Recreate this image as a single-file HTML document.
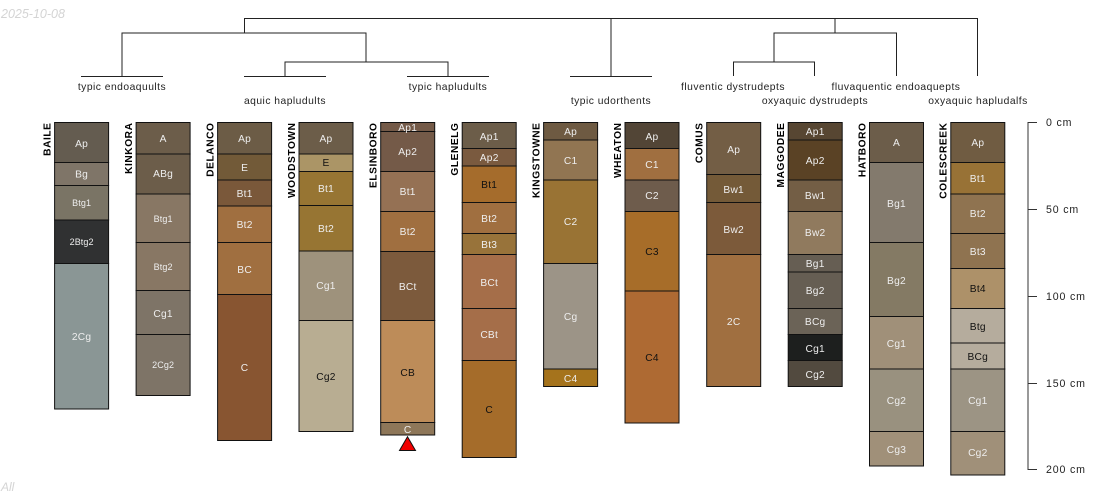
<!DOCTYPE html>
<html>
<head>
<meta charset="utf-8">
<style>
html,body{margin:0;padding:0;background:#fff}
svg{display:block}
text{font-family:"Liberation Sans",Arial,sans-serif}
.l{font-size:10.2px;letter-spacing:.25px;text-anchor:middle;fill:#eee}
.d{fill:#111}
.s{font-size:9px;letter-spacing:.1px}
.n{font-size:10.2px;letter-spacing:.55px;font-weight:bold;text-anchor:end;fill:#000}
.t{font-size:10.3px;letter-spacing:.48px;text-anchor:middle;fill:#222}
.a{font-size:10.6px;letter-spacing:.85px;fill:#222}
g.p rect{stroke:#111;stroke-width:1}
</style>
</head>
<body>
<svg width="1100" height="500" viewBox="0 0 1100 500" xmlns="http://www.w3.org/2000/svg">
<text x="1" y="18" font-size="12.5" font-style="italic" fill="#d4d4d4">2025-10-08</text>
<text x="1" y="491" font-size="12" font-style="italic" fill="#d4d4d4">All</text>

<!-- dendrogram -->
<g fill="none" stroke="#222" stroke-width="1">
<path d="M244.500 33V18.500H977.500V76"/>
<path d="M611 18.500V76"/>
<path d="M122 76V33H366V62"/>
<path d="M285 76V62H448V76"/>
<path d="M835 18.500V33"/>
<path d="M774 62V33H896.500V76"/>
<path d="M733.500 76V62H814.500V76"/>
<path d="M81 76.500H163M244 76.500H326M407 76.500H489M570 76.500H652"/>
</g>
<text class="t" x="122" y="90">typic endoaquults</text>
<text class="t" x="285" y="104">aquic hapludults</text>
<text class="t" x="448" y="90">typic hapludults</text>
<text class="t" x="611" y="104">typic udorthents</text>
<text class="t" x="733" y="90">fluventic dystrudepts</text>
<text class="t" x="815" y="104">oxyaquic dystrudepts</text>
<text class="t" x="896" y="90">fluvaquentic endoaquepts</text>
<text class="t" x="978" y="104">oxyaquic hapludalfs</text>

<!-- BAILE -->
<text class="n" transform="translate(50.500 122.500) rotate(-90)">BAILE</text>
<g class="p" transform="translate(54.600 0)">
<rect y="122.500" width="54" height="40" fill="#645c50"/>
<rect y="162.500" width="54" height="23" fill="#7f7568"/>
<rect y="185.500" width="54" height="34.500" fill="#7a7465"/>
<rect y="220" width="54" height="43.500" fill="#303132"/>
<rect y="263.500" width="54" height="145.500" fill="#8a9695"/>
<text class="l" x="27" y="147">Ap</text>
<text class="l" x="27" y="177.500">Bg</text>
<text class="l s" x="27" y="206">Btg1</text>
<text class="l s" x="27" y="245">2Btg2</text>
<text class="l" x="27" y="340">2Cg</text>
</g>

<!-- KINKORA -->
<text class="n" transform="translate(132 122.500) rotate(-90)">KINKORA</text>
<g class="p" transform="translate(136.100 0)">
<rect y="122.500" width="54" height="31.500" fill="#6c5d4a"/>
<rect y="154" width="54" height="40" fill="#6c5d4a"/>
<rect y="194" width="54" height="48.500" fill="#887764"/>
<rect y="242.500" width="54" height="48" fill="#887764"/>
<rect y="290.500" width="54" height="44" fill="#7e7467"/>
<rect y="334.500" width="54" height="61" fill="#7e7467"/>
<text class="l" x="27" y="142">A</text>
<text class="l" x="27" y="177">ABg</text>
<text class="l s" x="27" y="222">Btg1</text>
<text class="l s" x="27" y="270">Btg2</text>
<text class="l" x="27" y="317">Cg1</text>
<text class="l s" x="27" y="368">2Cg2</text>
</g>

<!-- DELANCO -->
<text class="n" transform="translate(213.500 122.500) rotate(-90)">DELANCO</text>
<g class="p" transform="translate(217.600 0)">
<rect y="122.500" width="54" height="31.500" fill="#6c5c46"/>
<rect y="154" width="54" height="26" fill="#725a38"/>
<rect y="180" width="54" height="26" fill="#7a583a"/>
<rect y="206" width="54" height="36.500" fill="#a06f40"/>
<rect y="242.500" width="54" height="52" fill="#a06f40"/>
<rect y="294.500" width="54" height="146" fill="#885531"/>
<text class="l" x="27" y="142">Ap</text>
<text class="l" x="27" y="171">E</text>
<text class="l" x="27" y="197">Bt1</text>
<text class="l" x="27" y="228">Bt2</text>
<text class="l" x="27" y="273">BC</text>
<text class="l" x="27" y="371">C</text>
</g>

<!-- WOODSTOWN -->
<text class="n" transform="translate(295 122.500) rotate(-90)">WOODSTOWN</text>
<g class="p" transform="translate(299 0)">
<rect y="122.500" width="54" height="31.500" fill="#6c5d49"/>
<rect y="154" width="54" height="17.500" fill="#ab9566"/>
<rect y="171.500" width="54" height="34" fill="#977533"/>
<rect y="205.500" width="54" height="45.500" fill="#977533"/>
<rect y="251" width="54" height="69.500" fill="#9e927c"/>
<rect y="320.500" width="54" height="111" fill="#b8ad92"/>
<text class="l" x="27" y="142">Ap</text>
<text class="l d" x="27" y="166">E</text>
<text class="l" x="27" y="192">Bt1</text>
<text class="l" x="27" y="232">Bt2</text>
<text class="l" x="27" y="289">Cg1</text>
<text class="l d" x="27" y="380">Cg2</text>
</g>

<!-- ELSINBORO -->
<text class="n" transform="translate(376.500 122.500) rotate(-90)">ELSINBORO</text>
<g class="p" transform="translate(380.700 0)">
<rect y="122.500" width="54" height="9" fill="#745a48"/>
<rect y="131.500" width="54" height="40" fill="#745a48"/>
<rect y="171.500" width="54" height="40" fill="#957154"/>
<rect y="211.500" width="54" height="40" fill="#a06f40"/>
<rect y="251.500" width="54" height="69" fill="#7c5a3c"/>
<rect y="320.500" width="54" height="102" fill="#bd8c59"/>
<rect y="422.500" width="54" height="12.500" fill="#8e7759"/>
<text class="l" x="27" y="131">Ap1</text>
<text class="l" x="27" y="155">Ap2</text>
<text class="l" x="27" y="195">Bt1</text>
<text class="l" x="27" y="235">Bt2</text>
<text class="l" x="27" y="290">BCt</text>
<text class="l d" x="27" y="376">CB</text>
<text class="l" x="27" y="433">C</text>
</g>
<polygon points="407.500,436.700 399.500,450.500 415.500,450.500" fill="#f00000" stroke="#111" stroke-width="1"/>

<!-- GLENELG -->
<text class="n" transform="translate(458 122.500) rotate(-90)">GLENELG</text>
<g class="p" transform="translate(462.200 0)">
<rect y="122.500" width="54" height="26" fill="#6c5d49"/>
<rect y="148.500" width="54" height="17.500" fill="#7a5a3f"/>
<rect y="166" width="54" height="36.500" fill="#a56c2c"/>
<rect y="202.500" width="54" height="31" fill="#a06f40"/>
<rect y="233.500" width="54" height="21" fill="#98733a"/>
<rect y="254.500" width="54" height="54" fill="#a56e49"/>
<rect y="308.500" width="54" height="52" fill="#a56e49"/>
<rect y="360.500" width="54" height="97" fill="#a56c2a"/>
<text class="l" x="27" y="140">Ap1</text>
<text class="l" x="27" y="161">Ap2</text>
<text class="l d" x="27" y="188">Bt1</text>
<text class="l" x="27" y="222">Bt2</text>
<text class="l" x="27" y="248">Bt3</text>
<text class="l" x="27" y="286">BCt</text>
<text class="l" x="27" y="338">CBt</text>
<text class="l d" x="27" y="413">C</text>
</g>

<!-- KINGSTOWNE -->
<text class="n" transform="translate(539.500 122.500) rotate(-90)">KINGSTOWNE</text>
<g class="p" transform="translate(543.600 0)">
<rect y="122.500" width="54" height="17.500" fill="#6e5a42"/>
<rect y="140" width="54" height="40" fill="#917552"/>
<rect y="180" width="54" height="83.500" fill="#997334"/>
<rect y="263.500" width="54" height="105.500" fill="#9c9487"/>
<rect y="369" width="54" height="17.500" fill="#a5731c"/>
<text class="l" x="27" y="135">Ap</text>
<text class="l" x="27" y="164">C1</text>
<text class="l" x="27" y="225">C2</text>
<text class="l" x="27" y="320">Cg</text>
<text class="l" x="27" y="382">C4</text>
</g>

<!-- WHEATON -->
<text class="n" transform="translate(621 122.500) rotate(-90)">WHEATON</text>
<g class="p" transform="translate(625 0)">
<rect y="122.500" width="54" height="26" fill="#524536"/>
<rect y="148.500" width="54" height="31.500" fill="#a06f40"/>
<rect y="180" width="54" height="31.500" fill="#6e5c4c"/>
<rect y="211.500" width="54" height="79.500" fill="#a76d29"/>
<rect y="291" width="54" height="132" fill="#ae6a33"/>
<text class="l" x="27" y="140">Ap</text>
<text class="l" x="27" y="168">C1</text>
<text class="l" x="27" y="199">C2</text>
<text class="l d" x="27" y="255">C3</text>
<text class="l d" x="27" y="361">C4</text>
</g>

<!-- COMUS -->
<text class="n" transform="translate(702.500 122.500) rotate(-90)">COMUS</text>
<g class="p" transform="translate(706.700 0)">
<rect y="122.500" width="54" height="52" fill="#735e45"/>
<rect y="174.500" width="54" height="28" fill="#745a38"/>
<rect y="202.500" width="54" height="52" fill="#7c5a3a"/>
<rect y="254.500" width="54" height="132" fill="#a06f40"/>
<text class="l" x="27" y="153">Ap</text>
<text class="l" x="27" y="193">Bw1</text>
<text class="l" x="27" y="233">Bw2</text>
<text class="l" x="27" y="325">2C</text>
</g>

<!-- MAGGODEE -->
<text class="n" transform="translate(784 122.500) rotate(-90)">MAGGODEE</text>
<g class="p" transform="translate(788.200 0)">
<rect y="122.500" width="54" height="17.500" fill="#574632"/>
<rect y="140" width="54" height="40" fill="#5a4225"/>
<rect y="180" width="54" height="31.500" fill="#735e45"/>
<rect y="211.500" width="54" height="43" fill="#907a5e"/>
<rect y="254.500" width="54" height="17.500" fill="#665e53"/>
<rect y="272" width="54" height="36.500" fill="#665e53"/>
<rect y="308.500" width="54" height="26" fill="#6b6357"/>
<rect y="334.500" width="54" height="26" fill="#1d1f1e"/>
<rect y="360.500" width="54" height="26" fill="#524a3f"/>
<text class="l" x="27" y="135">Ap1</text>
<text class="l" x="27" y="164">Ap2</text>
<text class="l" x="27" y="199">Bw1</text>
<text class="l" x="27" y="236">Bw2</text>
<text class="l" x="27" y="267">Bg1</text>
<text class="l" x="27" y="294">Bg2</text>
<text class="l" x="27" y="325">BCg</text>
<text class="l" x="27" y="352">Cg1</text>
<text class="l" x="27" y="378">Cg2</text>
</g>

<!-- HATBORO -->
<text class="n" transform="translate(865.500 122.500) rotate(-90)">HATBORO</text>
<g class="p" transform="translate(869.500 0)">
<rect y="122.500" width="54" height="40" fill="#6c5d4a"/>
<rect y="162.500" width="54" height="80" fill="#837a6d"/>
<rect y="242.500" width="54" height="74" fill="#847a64"/>
<rect y="316.500" width="54" height="52.500" fill="#a09079"/>
<rect y="369" width="54" height="62.500" fill="#99917f"/>
<rect y="431.500" width="54" height="34.500" fill="#a09079"/>
<text class="l" x="27" y="146">A</text>
<text class="l" x="27" y="207">Bg1</text>
<text class="l" x="27" y="284">Bg2</text>
<text class="l" x="27" y="347">Cg1</text>
<text class="l" x="27" y="404">Cg2</text>
<text class="l" x="27" y="453">Cg3</text>
</g>

<!-- COLESCREEK -->
<text class="n" transform="translate(946.500 122.500) rotate(-90)">COLESCREEK</text>
<g class="p" transform="translate(950.800 0)">
<rect y="122.500" width="54" height="40" fill="#705c42"/>
<rect y="162.500" width="54" height="31.500" fill="#987236"/>
<rect y="194" width="54" height="39.500" fill="#8f7350"/>
<rect y="233.500" width="54" height="35" fill="#8f7350"/>
<rect y="268.500" width="54" height="40" fill="#ad9169"/>
<rect y="308.500" width="54" height="34.500" fill="#b5ac9d"/>
<rect y="343" width="54" height="26" fill="#b5ac9d"/>
<rect y="369" width="54" height="62.500" fill="#9c9484"/>
<rect y="431.500" width="54" height="43.500" fill="#a09079"/>
<text class="l" x="27" y="146">Ap</text>
<text class="l" x="27" y="182">Bt1</text>
<text class="l" x="27" y="217">Bt2</text>
<text class="l" x="27" y="255">Bt3</text>
<text class="l d" x="27" y="292">Bt4</text>
<text class="l d" x="27" y="330">Btg</text>
<text class="l d" x="27" y="360">BCg</text>
<text class="l" x="27" y="404">Cg1</text>
<text class="l" x="27" y="456">Cg2</text>
</g>

<!-- depth scale -->
<g fill="none" stroke="#333" stroke-width="1">
<path d="M1037 122.500H1028V469.500H1037"/>
<path d="M1028 209.500H1037M1028 296.500H1037M1028 383.500H1037"/>
</g>
<text class="a" x="1046" y="126">0 cm</text>
<text class="a" x="1046" y="213">50 cm</text>
<text class="a" x="1046" y="300">100 cm</text>
<text class="a" x="1046" y="387">150 cm</text>
<text class="a" x="1046" y="473">200 cm</text>
</svg>
</body>
</html>
